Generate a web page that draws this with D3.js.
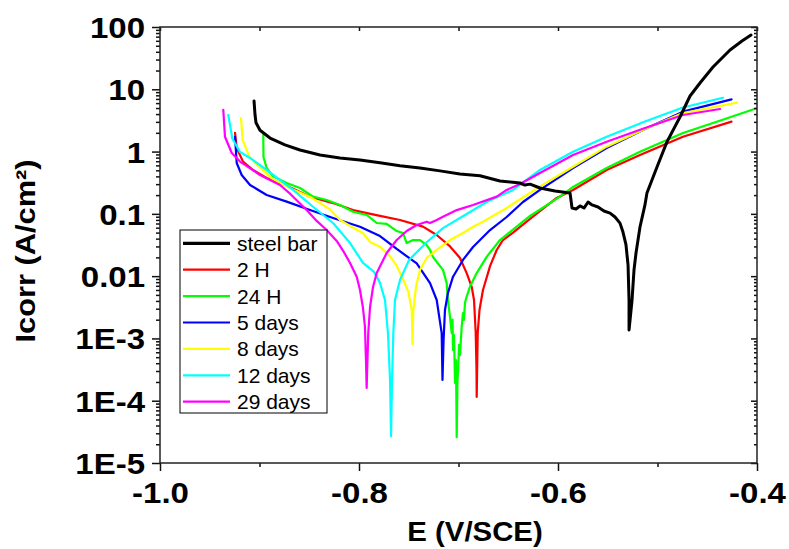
<!DOCTYPE html>
<html><head><meta charset="utf-8">
<script src="https://cdn.jsdelivr.net/npm/d3@7"></script>
<style>
body{margin:0;background:#fff}
svg{display:block}
text{font-family:"Liberation Sans",Arial,sans-serif}
</style>
</head><body>
<svg id="c" width="789" height="549"></svg>
<script>
// ---------- data ----------
const seriesNames  = ["steel bar","2 H","24 H","5 days","8 days","12 days","29 days"];
const seriesColors = ["#000000","#ff0000","#00ff00","#0000ff","#ffff00","#00ffff","#ff00ff"];
const xTicks = [-1.0,-0.8,-0.6,-0.4];
const xTickLabels = ["-1.0","-0.8","-0.6","-0.4"];
const xMinorTicks = [-0.9,-0.7,-0.5];
const yTicks = [100,10,1,0.1,0.01,1e-3,1e-4,1e-5];
const yTickLabels = ["100","10","1","0.1","0.01","1E-3","1E-4","1E-5"];
const xTitle = "E (V/SCE)";
const yTitle = "Icorr (A/cm\u00B2)";

// [E (V/SCE), Icorr (A/cm2)]
const steelBar = [[-0.9055,6.5],[-0.9045,3.9],[-0.9035,2.9],[-0.8995,2.2],[-0.8894,1.65],[-0.8744,1.28],[-0.8593,1.06],[-0.8392,0.88],[-0.8191,0.79],[-0.7990,0.73],[-0.7789,0.66],[-0.7588,0.59],[-0.7387,0.545],[-0.7186,0.49],[-0.6985,0.436],[-0.6784,0.41],[-0.6583,0.337],[-0.6382,0.313],[-0.6332,0.29],[-0.6281,0.30],[-0.6181,0.26],[-0.6030,0.233],[-0.5879,0.216],[-0.5859,0.124],[-0.5819,0.12],[-0.5779,0.134],[-0.5739,0.124],[-0.5698,0.155],[-0.5658,0.139],[-0.5598,0.129],[-0.5538,0.111],[-0.5477,0.103],[-0.5427,0.089],[-0.5377,0.071],[-0.5347,0.051],[-0.5317,0.032],[-0.5296,0.0151],[-0.5286,0.0041],[-0.5286,0.00137],[-0.5256,0.0041],[-0.5236,0.0126],[-0.5216,0.0235],[-0.5176,0.0615],[-0.5126,0.139],[-0.5106,0.216],[-0.5005,0.565],[-0.4905,1.43],[-0.4774,3.59],[-0.4673,7.8],[-0.4573,12.6],[-0.4442,22.8],[-0.4271,42.8],[-0.4151,59.6],[-0.4060,74.5]];

const h2 = [[-0.9246,1.99],[-0.9229,1.14],[-0.9166,0.69],[-0.9065,0.506],[-0.8928,0.377],[-0.8727,0.282],[-0.8492,0.189],[-0.8261,0.149],[-0.8060,0.115],[-0.7789,0.093],[-0.7588,0.0798],[-0.7357,0.0625],[-0.7219,0.0458],[-0.7085,0.030],[-0.6985,0.0196],[-0.6918,0.0112],[-0.6867,0.0067],[-0.6844,0.00414],[-0.6827,0.00122],[-0.6819,3.1e-4],[-0.6817,1.15e-4],[-0.6807,0.00122],[-0.6789,0.00286],[-0.6754,0.0060],[-0.6683,0.0145],[-0.6616,0.0263],[-0.6553,0.038],[-0.6452,0.050],[-0.6281,0.083],[-0.6013,0.180],[-0.5849,0.242],[-0.5511,0.506],[-0.5176,0.88],[-0.4744,1.73],[-0.4256,3.02]];

const h24 = [[-0.8962,1.85],[-0.8960,0.82],[-0.8928,0.545],[-0.8864,0.40],[-0.8727,0.313],[-0.8593,0.260],[-0.8462,0.189],[-0.8325,0.167],[-0.8191,0.139],[-0.8060,0.108],[-0.7923,0.096],[-0.7822,0.0713],[-0.7722,0.069],[-0.7621,0.053],[-0.7558,0.0493],[-0.7521,0.034],[-0.7457,0.038],[-0.7387,0.038],[-0.7320,0.0316],[-0.7286,0.0263],[-0.7256,0.0203],[-0.7219,0.0169],[-0.7156,0.0126],[-0.7119,0.0078],[-0.7106,0.0041],[-0.7085,0.0022],[-0.7068,0.00122],[-0.7060,0.0020],[-0.7055,6.5e-4],[-0.7045,0.00113],[-0.7035,1.93e-4],[-0.7025,4.5e-4],[-0.7018,2.6e-5],[-0.7010,2.15e-4],[-0.7002,3.5e-4],[-0.6995,7.9e-4],[-0.6985,5.4e-4],[-0.6968,0.00153],[-0.6955,0.00256],[-0.6945,0.00198],[-0.6935,0.00371],[-0.6918,0.0047],[-0.6884,0.0068],[-0.6817,0.0112],[-0.6717,0.0204],[-0.6583,0.038],[-0.6415,0.0625],[-0.6281,0.0925],[-0.5980,0.189],[-0.5849,0.27],[-0.5511,0.545],[-0.5176,0.995],[-0.4744,1.99],[-0.4405,3.02],[-0.4003,4.95]];

const d5 = [[-0.9246,1.73],[-0.9229,0.656],[-0.9179,0.421],[-0.9095,0.291],[-0.8928,0.201],[-0.8727,0.157],[-0.8492,0.115],[-0.8261,0.086],[-0.7990,0.062],[-0.7789,0.044],[-0.7621,0.0273],[-0.7420,0.016],[-0.7286,0.0077],[-0.7219,0.00414],[-0.7169,0.00122],[-0.7161,2.15e-4],[-0.7150,9.4e-4],[-0.7136,0.00286],[-0.7106,0.0054],[-0.7055,0.0098],[-0.6955,0.0182],[-0.6854,0.0294],[-0.6683,0.055],[-0.6516,0.089],[-0.6352,0.155],[-0.6181,0.242],[-0.5849,0.545],[-0.5511,1.14],[-0.5126,2.30],[-0.4744,4.37],[-0.4256,6.9]];

const d8 = [[-0.9186,3.46],[-0.9169,1.53],[-0.9095,0.78],[-0.8878,0.374],[-0.8693,0.257],[-0.8492,0.187],[-0.8291,0.118],[-0.8191,0.0798],[-0.8090,0.064],[-0.7960,0.0493],[-0.7889,0.0353],[-0.7789,0.0297],[-0.7688,0.0209],[-0.7621,0.0146],[-0.7554,0.0087],[-0.7504,0.0056],[-0.7470,0.00286],[-0.7462,8.15e-4],[-0.7454,0.00286],[-0.7427,0.0068],[-0.7387,0.0126],[-0.7320,0.0196],[-0.7219,0.0263],[-0.7085,0.038],[-0.6955,0.0493],[-0.6854,0.0622],[-0.6754,0.0748],[-0.6516,0.124],[-0.6181,0.275],[-0.5849,0.57],[-0.5511,1.20],[-0.5126,2.30],[-0.4744,4.16],[-0.4201,6.1]];

const d12 = [[-0.9314,3.87],[-0.9279,1.85],[-0.9276,1.65],[-0.9196,0.985],[-0.9095,0.79],[-0.8928,0.506],[-0.8663,0.242],[-0.8462,0.130],[-0.8261,0.0713],[-0.8090,0.034],[-0.7960,0.0163],[-0.7849,0.0117],[-0.7789,0.0078],[-0.7739,0.00414],[-0.7709,0.00122],[-0.7688,2.15e-4],[-0.7678,2.7e-5],[-0.7668,2.15e-4],[-0.7655,0.00122],[-0.7638,0.00414],[-0.7588,0.0087],[-0.7497,0.0182],[-0.7320,0.035],[-0.7156,0.059],[-0.6935,0.096],[-0.6717,0.155],[-0.6452,0.242],[-0.6181,0.506],[-0.5849,0.995],[-0.5511,1.73],[-0.5126,3.04],[-0.4744,5.1],[-0.4342,7.3]];

const d29 = [[-0.9364,4.66],[-0.9347,1.73],[-0.9279,0.948],[-0.9196,0.69],[-0.8995,0.421],[-0.8794,0.291],[-0.8693,0.211],[-0.8526,0.115],[-0.8425,0.077],[-0.8325,0.0551],[-0.8224,0.0367],[-0.8158,0.0253],[-0.8090,0.0163],[-0.8023,0.0098],[-0.7990,0.0060],[-0.7960,0.00308],[-0.7940,0.00153],[-0.7930,4.5e-4],[-0.7923,1.6e-4],[-0.7915,4.5e-4],[-0.7907,0.00122],[-0.7889,0.0032],[-0.7859,0.0067],[-0.7822,0.0112],[-0.7722,0.0235],[-0.7621,0.038],[-0.7521,0.053],[-0.7420,0.0662],[-0.7320,0.0748],[-0.7286,0.0713],[-0.7219,0.0798],[-0.7156,0.090],[-0.7018,0.115],[-0.6854,0.139],[-0.6616,0.189],[-0.6516,0.242],[-0.6382,0.302],[-0.6181,0.453],[-0.5849,0.88],[-0.5511,1.44],[-0.5126,2.39],[-0.4744,3.87],[-0.4372,4.83]];

const seriesData = [steelBar,h2,h24,d5,d8,d12,d29];

// ---------- layout ----------
const svg = d3.select("#c");
const L=160,R=757,T=27,B=463;
const x = d3.scaleLinear().domain([-1.0,-0.4]).range([L,R]);
const y = d3.scaleLog().domain([1e-5,100]).range([B,T]);

const yMinor=[];
for(let e=-5;e<2;e++) for(let k=2;k<10;k++) yMinor.push(k*Math.pow(10,e));
const xAll = d3.range(-1.0,-0.39,0.1).map(v=>+v.toFixed(1));

function styleAxis(g){
  g.select(".domain").remove();
  g.selectAll("line").attr("stroke","#111").attr("stroke-width",1.5);
}

// clip
svg.append("clipPath").attr("id","clip").append("rect").attr("x",L).attr("y",T).attr("width",R-L).attr("height",B-T);

// curves
const line = d3.line().x(d=>x(d[0])).y(d=>y(d[1]));
const order=[1,2,3,4,5,6,0];
const cg = svg.append("g").attr("clip-path","url(#clip)");
order.forEach(i=>{
  cg.append("path").datum(seriesData[i]).attr("d",line).attr("fill","none")
    .attr("stroke",seriesColors[i]).attr("stroke-width",i===0?3:2.2)
    .attr("stroke-linejoin","round").attr("stroke-linecap","round");
});

// axes: bottom
svg.append("g").attr("transform",`translate(0,${B})`)
  .call(d3.axisBottom(x).tickValues(xMinorTicks).tickSize(4).tickSizeOuter(0).tickFormat(""))
  .call(styleAxis);
const gx = svg.append("g").attr("transform",`translate(0,${B})`)
  .call(d3.axisBottom(x).tickValues(xTicks).tickSize(8).tickSizeOuter(0).tickFormat((d,i)=>xTickLabels[i]))
  .call(styleAxis);
gx.selectAll("text").attr("y",40).attr("dy",0).attr("fill","#000")
  .style("font-size","30px").style("font-weight","bold")
  .attr("transform","scale(1.1,1)");
// left
svg.append("g").attr("transform",`translate(${L},0)`)
  .call(d3.axisLeft(y).tickValues(yMinor).tickSize(4).tickSizeOuter(0).tickFormat(""))
  .call(styleAxis);
const gy = svg.append("g").attr("transform",`translate(${L},0)`)
  .call(d3.axisLeft(y).tickValues(yTicks).tickSize(8).tickSizeOuter(0).tickFormat((d,i)=>yTickLabels[i]))
  .call(styleAxis);
gy.selectAll("text").attr("x",-15/1.1).attr("dy","0.35em").attr("fill","#000")
  .style("font-size","30px").style("font-weight","bold")
  .attr("transform","scale(1.1,1)");
// top (inward)
svg.append("g").attr("transform",`translate(0,${T})`)
  .call(d3.axisTop(x).tickValues(xAll).tickSize(-4).tickSizeOuter(0).tickFormat(""))
  .call(styleAxis);
// right (inward)
svg.append("g").attr("transform",`translate(${R},0)`)
  .call(d3.axisRight(y).tickValues(yMinor).tickSize(-3).tickSizeOuter(0).tickFormat(""))
  .call(styleAxis);
svg.append("g").attr("transform",`translate(${R},0)`)
  .call(d3.axisRight(y).tickValues(yTicks).tickSize(-6).tickSizeOuter(0).tickFormat(""))
  .call(styleAxis);

// frame
svg.append("rect").attr("x",L).attr("y",T).attr("width",R-L).attr("height",B-T)
  .attr("fill","none").attr("stroke","#222").attr("stroke-width",1.5);

// titles
svg.append("text").attr("transform","translate(475,541) scale(1.05,1)")
  .attr("text-anchor","middle").style("font-size","28px").style("font-weight","bold").text(xTitle);
svg.append("text").attr("transform","translate(35,251) rotate(-90) scale(1.1,1)")
  .attr("text-anchor","middle").style("font-size","28px").style("font-weight","bold").text(yTitle);

// legend
const lg = svg.append("g");
lg.append("rect").attr("x",180).attr("y",230).attr("width",147).attr("height",183)
  .attr("fill","#fff").attr("stroke","#000").attr("stroke-width",1);
seriesNames.forEach((n,i)=>{
  const cy = 243.3 + i*26.4;
  lg.append("line").attr("x1",183).attr("x2",230).attr("y1",cy).attr("y2",cy)
    .attr("stroke",seriesColors[i]).attr("stroke-width",i===0?3.2:2.2);
  lg.append("text").attr("x",237).attr("y",cy+7.5).style("font-size","21px").text(n);
});
</script>
</body></html>
